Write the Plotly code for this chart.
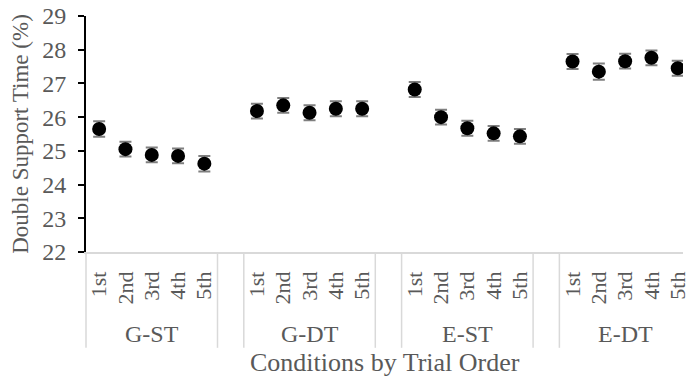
import plotly.graph_objects as go

# Conditions and trial order
conditions = ["G-ST", "G-DT", "E-ST", "E-DT"]
trials = ["1st", "2nd", "3rd", "4th", "5th"]

# Double support time (%) by trial, per condition
dst_gst = [25.65, 25.05, 24.88, 24.85, 24.62]
dst_gdt = [26.18, 26.35, 26.13, 26.25, 26.25]
dst_est = [26.82, 26.00, 25.67, 25.52, 25.43]
dst_edt = [27.65, 27.35, 27.66, 27.76, 27.45]

# Error-bar half-lengths (standard error)
err_gst = [0.23, 0.22, 0.22, 0.22, 0.23]
err_gdt = [0.22, 0.22, 0.22, 0.22, 0.22]
err_est = [0.22, 0.22, 0.22, 0.22, 0.22]
err_edt = [0.22, 0.24, 0.22, 0.22, 0.22]

y_ticks = [22, 23, 24, 25, 26, 27, 28, 29]

series = [dst_gst, dst_gdt, dst_est, dst_edt]
errors = [err_gst, err_gdt, err_est, err_edt]

# Category slots: five trials per condition, one empty slot between groups
slots_per_group = len(trials) + 1

FONT = "Liberation Serif"
GREY_TEXT = "#595959"
GRID = "#d9d9d9"

fig = go.Figure()
all_x, all_text = [], []
for g, (vals, errs) in enumerate(zip(series, errors)):
    xs = [g * slots_per_group + t for t in range(len(trials))]
    all_x += xs
    all_text += trials
    fig.add_trace(go.Scatter(
        x=xs, y=vals, mode="markers",
        marker=dict(size=14, color="black"),
        error_y=dict(type="data", array=errs, color="#7f7f7f",
                     thickness=2, width=6),
        showlegend=False,
        name=conditions[g],
    ))

# Dividers between condition groups in the category axis area
bounds = []
for g in range(len(conditions)):
    start = g * slots_per_group - 0.5
    end = start + len(trials)
    bounds += [start, end]
div_depth = -0.406
for b in bounds:
    if b < 0:
        fig.add_shape(type="line", xref="paper", yref="paper",
                      x0=0, x1=0, y0=0, y1=div_depth,
                      line=dict(color=GRID, width=1.5))
    else:
        fig.add_shape(type="line", xref="x", yref="paper",
                      x0=b, x1=b, y0=0, y1=div_depth,
                      line=dict(color=GRID, width=1.5))

# Group labels
for g, name in enumerate(conditions):
    fig.add_annotation(x=g * slots_per_group + (len(trials) - 1) / 2,
                       y=-0.347, xref="x", yref="paper",
                       text=name, showarrow=False,
                       font=dict(family=FONT, size=24, color=GREY_TEXT),
                       xanchor="center", yanchor="middle")

# X-axis title
fig.add_annotation(x=0.5, y=-0.47, xref="paper", yref="paper",
                   text="Conditions by Trial Order", showarrow=False,
                   font=dict(family=FONT, size=26, color=GREY_TEXT),
                   xanchor="center", yanchor="middle")

fig.update_layout(
    width=690, height=385,
    margin=dict(l=86, r=0, t=16, b=133),
    paper_bgcolor="white", plot_bgcolor="white",
    font=dict(family=FONT, color=GREY_TEXT),
    xaxis=dict(
        range=[-0.5, 22.2],
        tickmode="array", tickvals=all_x, ticktext=all_text,
        tickangle=-90, ticks="", ticklabelstandoff=9,
        ticklabeloverflow="allow",
        tickfont=dict(family=FONT, size=22, color=GREY_TEXT),
        showline=True, linecolor=GRID, linewidth=1.5,
        showgrid=False, zeroline=False, fixedrange=True,
    ),
    yaxis=dict(
        range=[22, 29],
        tickmode="array", tickvals=y_ticks,
        ticks="outside", ticklen=6, tickwidth=2, tickcolor="black",
        ticklabelstandoff=7,
        tickfont=dict(family=FONT, size=24, color=GREY_TEXT),
        showline=True, linecolor="black", linewidth=2,
        showgrid=False, zeroline=False,
        title=dict(text="Double Support Time (%)",
                   font=dict(family=FONT, size=23, color=GREY_TEXT),
                   standoff=7),
    ),
)

fig.write_html("out.html")
